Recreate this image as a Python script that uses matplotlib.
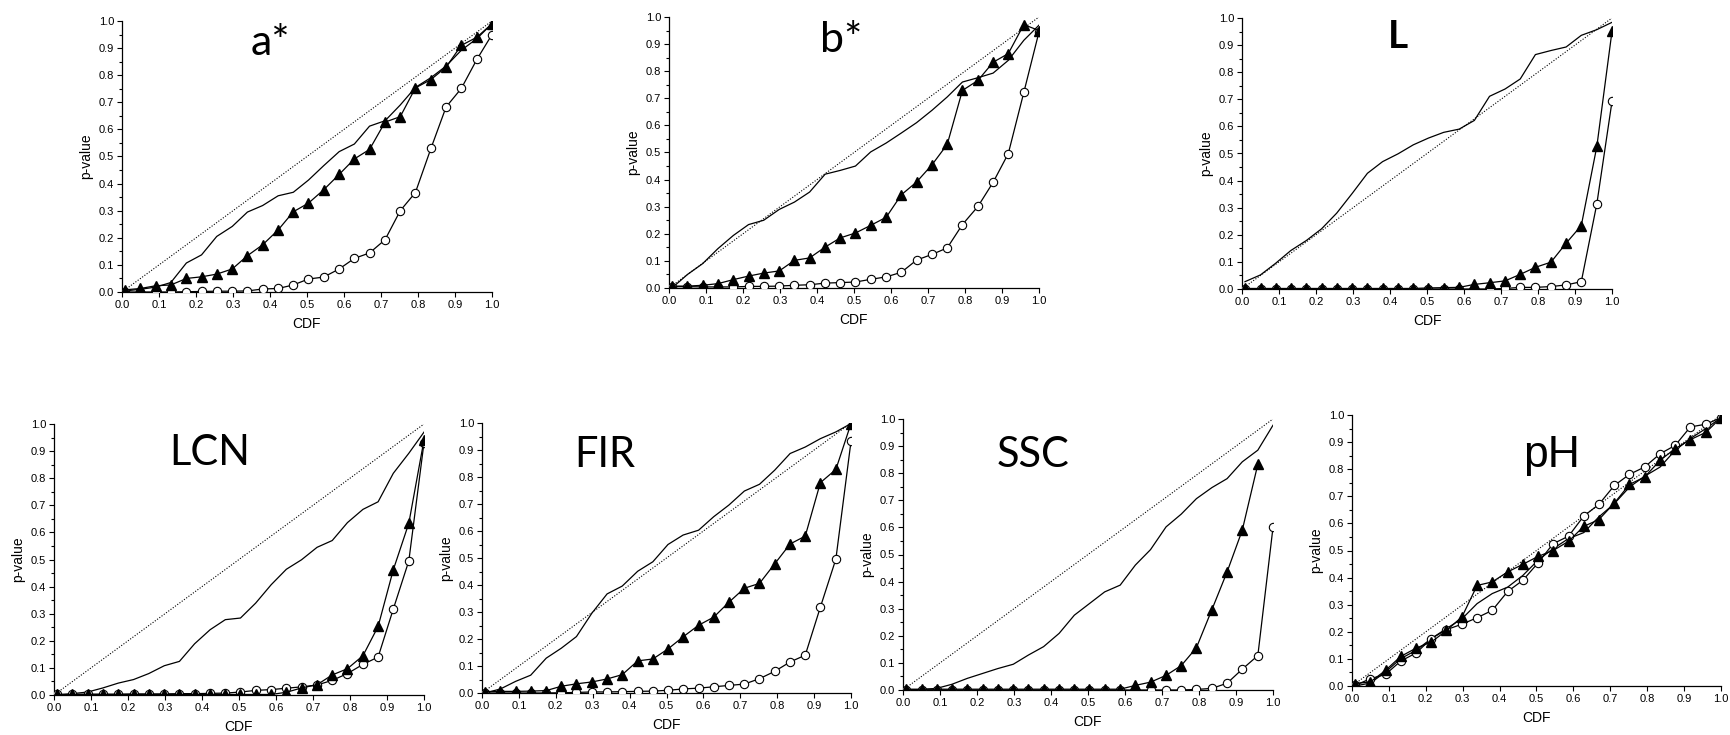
import matplotlib.pyplot as plt
from matplotlib.ticker import MultipleLocator

# CDF positions shared by every panel
cdf = [0.008, 0.05, 0.091, 0.132, 0.174, 0.215, 0.256, 0.298, 0.339, 0.38, 0.422, 0.463, 0.504,
       0.545, 0.587, 0.628, 0.669, 0.711, 0.752, 0.793, 0.835, 0.876, 0.917, 0.959, 1.0]

# a*
a_line = [0.004, 0.01, 0.018, 0.035, 0.107, 0.137, 0.205, 0.242, 0.295, 0.319, 0.355, 0.368, 0.413,
          0.466, 0.518, 0.546, 0.612, 0.632, 0.69, 0.755, 0.791, 0.834, 0.892, 0.935, 0.99]
a_tri = [0.008, 0.013, 0.023, 0.026, 0.05, 0.056, 0.066, 0.085, 0.134, 0.174, 0.229, 0.296, 0.328,
         0.377, 0.434, 0.491, 0.526, 0.627, 0.647, 0.753, 0.784, 0.83, 0.91, 0.94, 0.99]
a_circ = [0.0, 0.0, 0.0, 0.0, 0.001, 0.002, 0.003, 0.003, 0.004, 0.011, 0.013, 0.026, 0.048,
          0.055, 0.085, 0.124, 0.144, 0.193, 0.3, 0.367, 0.53, 0.683, 0.751, 0.858, 0.95]

# b*
b_line = [0.0, 0.05, 0.09, 0.145, 0.194, 0.234, 0.25, 0.29, 0.317, 0.354, 0.42, 0.434, 0.45,
          0.502, 0.535, 0.572, 0.61, 0.656, 0.705, 0.76, 0.776, 0.793, 0.84, 0.914, 0.97]
b_tri = [0.007, 0.007, 0.01, 0.016, 0.031, 0.044, 0.055, 0.063, 0.102, 0.111, 0.151, 0.185, 0.203,
         0.231, 0.261, 0.344, 0.391, 0.455, 0.53, 0.729, 0.766, 0.833, 0.865, 0.972, 0.95]
b_circ = [0.005, 0.005, 0.004, 0.004, 0.004, 0.006, 0.006, 0.007, 0.01, 0.012, 0.018, 0.02, 0.022,
          0.032, 0.041, 0.058, 0.103, 0.124, 0.148, 0.234, 0.301, 0.39, 0.496, 0.722, 0.945]

# L
l_line = [0.027, 0.052, 0.095, 0.142, 0.179, 0.222, 0.28, 0.353, 0.427, 0.47, 0.499, 0.532, 0.557,
          0.578, 0.59, 0.622, 0.711, 0.738, 0.775, 0.865, 0.88, 0.893, 0.936, 0.957, 0.984]
l_tri = [0.002, 0.002, 0.002, 0.002, 0.002, 0.002, 0.002, 0.002, 0.002, 0.002, 0.002, 0.002, 0.004,
         0.005, 0.006, 0.017, 0.023, 0.03, 0.054, 0.08, 0.099, 0.169, 0.234, 0.526, 0.951]
l_circ = [0.0, 0.0, 0.0, 0.0, 0.0, 0.0, 0.0, 0.0, 0.0, 0.0, 0.0, 0.0, 0.0,
          0.0, 0.0, 0.0, 0.0, 0.002, 0.006, 0.006, 0.009, 0.015, 0.027, 0.314, 0.692]

# LCN
lcn_line = [0.0, 0.005, 0.011, 0.026, 0.044, 0.057, 0.079, 0.108, 0.124, 0.189, 0.241, 0.278, 0.284,
            0.339, 0.407, 0.464, 0.499, 0.545, 0.57, 0.636, 0.685, 0.713, 0.818, 0.892, 0.97]
lcn_tri = [0.002, 0.002, 0.002, 0.002, 0.002, 0.002, 0.002, 0.002, 0.002, 0.002, 0.002, 0.002, 0.002,
           0.002, 0.002, 0.01, 0.026, 0.038, 0.074, 0.097, 0.145, 0.253, 0.462, 0.634, 0.941]
lcn_circ = [0.002, 0.002, 0.003, 0.003, 0.003, 0.004, 0.004, 0.004, 0.005, 0.005, 0.006, 0.007, 0.011,
            0.017, 0.02, 0.025, 0.03, 0.037, 0.054, 0.079, 0.113, 0.14, 0.317, 0.495, 0.931]

# FIR
fir_line = [0.0, 0.015, 0.043, 0.066, 0.129, 0.166, 0.209, 0.296, 0.367, 0.396, 0.451, 0.486, 0.55,
            0.585, 0.603, 0.653, 0.696, 0.748, 0.773, 0.825, 0.887, 0.911, 0.942, 0.967, 0.998]
fir_tri = [0.005, 0.006, 0.006, 0.007, 0.009, 0.025, 0.034, 0.041, 0.052, 0.068, 0.119, 0.126, 0.163,
           0.208, 0.251, 0.281, 0.336, 0.388, 0.406, 0.478, 0.552, 0.581, 0.779, 0.828, 0.998]
fir_circ = [0.0, 0.0, 0.0, 0.0, 0.0, 0.001, 0.002, 0.004, 0.004, 0.005, 0.006, 0.007, 0.01,
            0.015, 0.018, 0.023, 0.028, 0.033, 0.053, 0.08, 0.115, 0.14, 0.318, 0.496, 0.932]

# SSC
ssc_line = [0.0, 0.002, 0.006, 0.021, 0.043, 0.061, 0.079, 0.095, 0.129, 0.16, 0.209, 0.276, 0.319,
            0.362, 0.387, 0.461, 0.518, 0.602, 0.649, 0.706, 0.747, 0.78, 0.842, 0.885, 0.977]
ssc_tri = [0.003, 0.003, 0.003, 0.003, 0.003, 0.003, 0.003, 0.003, 0.003, 0.003, 0.003, 0.003, 0.003,
           0.003, 0.003, 0.017, 0.029, 0.054, 0.09, 0.156, 0.297, 0.436, 0.59, 0.833]
ssc_circ = [0.0, 0.0, 0.0, 0.0, 0.0, 0.0, 0.0, 0.0, 0.0, 0.0, 0.0, 0.0, 0.0,
            0.0, 0.0, 0.0, 0.0, 0.0, 0.0, 0.002, 0.006, 0.025, 0.077, 0.127, 0.6]

# pH
ph_line = [0.0, 0.011, 0.052, 0.101, 0.132, 0.175, 0.212, 0.248, 0.304, 0.341, 0.365, 0.408, 0.464,
           0.507, 0.544, 0.566, 0.624, 0.673, 0.734, 0.774, 0.808, 0.87, 0.913, 0.95, 0.99]
ph_tri = [0.009, 0.015, 0.058, 0.109, 0.14, 0.162, 0.205, 0.255, 0.371, 0.384, 0.421, 0.449, 0.478,
          0.5, 0.534, 0.589, 0.614, 0.675, 0.744, 0.771, 0.833, 0.876, 0.909, 0.936, 0.99]
ph_circ = [0.002, 0.027, 0.043, 0.092, 0.122, 0.175, 0.208, 0.228, 0.252, 0.279, 0.349, 0.39, 0.454,
           0.525, 0.553, 0.627, 0.67, 0.74, 0.781, 0.808, 0.857, 0.888, 0.956, 0.966, 0.99]

W, H = 1731, 735
fig = plt.figure(figsize=(W / 100, H / 100), dpi=100)

# (name, line, triangles, circles, axes box px: left, right, top, bottom,
#  title x-centre / baseline px, title font, size, weight)
panels = [
    ("a*", a_line, a_tri, a_circ, (122, 492, 21, 292), (270, 55), "Lato", 31, "normal"),
    ("b*", b_line, b_tri, b_circ, (669, 1039, 17, 288), (841, 52), "Lato", 31, "normal"),
    ("L", l_line, l_tri, l_circ, (1242, 1612, 18, 289), (1398, 48), "Lato", 28, "bold"),
    ("LCN", lcn_line, lcn_tri, lcn_circ, (54, 424, 424, 695), (210, 465), "Lato", 30, "normal"),
    ("FIR", fir_line, fir_tri, fir_circ, (482, 851, 423, 693), (605, 467), "Lato", 30, "normal"),
    ("SSC", ssc_line, ssc_tri, ssc_circ, (903, 1273, 419, 690), (1033, 467), "Lato", 30, "normal"),
    ("pH", ph_line, ph_tri, ph_circ, (1352, 1721, 415, 686), (1552, 467), "Liberation Sans", 32, "normal"),
]

for name, line, tri, circ, box, tpos, tfont, tsize, tweight in panels:
    left, right, top, bottom = box
    ax = fig.add_axes([left / W, 1 - bottom / H, (right - left) / W, (bottom - top) / H])

    ax.plot([0, 1], [0, 1], color="black", lw=0.8, ls=(0, (1, 1.5)), zorder=1)
    ax.plot(cdf[:len(line)], line, color="black", lw=0.9, zorder=2)
    ax.plot(cdf[:len(circ)], circ, color="black", lw=0.9, marker="o", ms=6,
            mfc="white", mec="black", mew=0.8, zorder=3)
    ax.plot(cdf[:len(tri)], tri, color="black", lw=0.9, marker="^", ms=6.5,
            mfc="black", mec="black", zorder=4)

    ax.set_xlim(0, 1)
    ax.set_ylim(0, 1)
    ax.xaxis.set_major_locator(MultipleLocator(0.1))
    ax.yaxis.set_major_locator(MultipleLocator(0.1))
    ax.yaxis.set_minor_locator(MultipleLocator(0.05))
    ax.xaxis.set_major_formatter(plt.FormatStrFormatter("%.1f"))
    ax.yaxis.set_major_formatter(plt.FormatStrFormatter("%.1f"))
    ax.tick_params(which="major", direction="out", length=3.5, width=0.8, labelsize=8, pad=2)
    ax.tick_params(which="minor", direction="out", length=2, width=0.8)
    for lab in ax.get_xticklabels() + ax.get_yticklabels():
        lab.set_fontfamily("Liberation Sans")
    ax.spines["top"].set_visible(False)
    ax.spines["right"].set_visible(False)
    ax.spines["left"].set_linewidth(0.9)
    ax.spines["bottom"].set_linewidth(0.9)
    ax.patch.set_alpha(0)

    ax.set_xlabel("CDF", fontsize=10, family="Liberation Sans", labelpad=5)
    ax.set_ylabel("p-value", fontsize=10, family="Liberation Sans", labelpad=4)

    fig.text(tpos[0] / W, 1 - tpos[1] / H, name, fontsize=tsize, family=tfont,
             weight=tweight, ha="center", va="baseline")

fig.savefig("out.png", dpi=100)
